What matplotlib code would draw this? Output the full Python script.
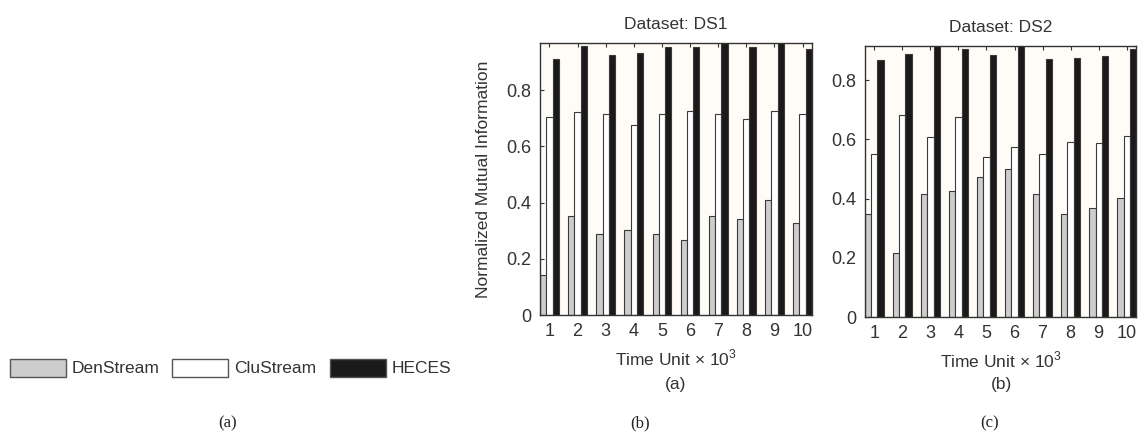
import numpy as np
import matplotlib
matplotlib.use('Agg')
from matplotlib import pyplot as plt
from matplotlib.patches import Rectangle

'''
    NMI comparison of DenStream, CluStream and HECES on two datasets
'''

plt.rcParams['font.family'] = ['Liberation Sans', 'DejaVu Sans']
plt.rcParams['mathtext.fontset'] = 'custom'
plt.rcParams['mathtext.rm'] = 'Liberation Sans'

time_units = [1, 2, 3, 4, 5, 6, 7, 8, 9, 10]
methods = ['DenStream', 'CluStream', 'HECES']

ds1_denstream = [0.142, 0.352, 0.287, 0.303, 0.288, 0.267, 0.352, 0.343, 0.408, 0.328]
ds1_clustream = [0.703, 0.721, 0.715, 0.677, 0.715, 0.727, 0.715, 0.697, 0.727, 0.715]
ds1_heces = [0.911, 0.956, 0.927, 0.933, 0.952, 0.952, 0.975, 0.952, 0.975, 0.946]

ds2_denstream = [0.349, 0.217, 0.417, 0.426, 0.473, 0.501, 0.417, 0.349, 0.370, 0.401]
ds2_clustream = [0.550, 0.682, 0.607, 0.677, 0.540, 0.574, 0.550, 0.592, 0.587, 0.611]
ds2_heces = [0.870, 0.890, 0.930, 0.905, 0.887, 0.930, 0.871, 0.877, 0.881, 0.905]

colors = ['#cdcdcd', '#ffffff', '#1a1a1a']
edge = '#3a3a3a'


def draw_panel(ax, series, title, ytop, show_ylabel):
    '''
        MATLAB style grouped bar chart
    '''
    x = np.array(time_units)
    group_w = 3 / 4.5
    bw = group_w / 3
    for i, vals in enumerate(series):
        ax.bar(x + (i - 1) * bw, vals, width=bw, color=colors[i],
               edgecolor=edge, linewidth=0.8, zorder=2)
    ax.set_xlim(1 - group_w / 2, 10 + group_w / 2)
    ax.set_ylim(0, ytop)
    ax.set_facecolor('#fffbf6')
    ax.set_xticks(time_units)
    ax.set_yticks([0, 0.2, 0.4, 0.6, 0.8])
    ax.set_yticklabels(['0', '0.2', '0.4', '0.6', '0.8'])
    ax.tick_params(direction='in', top=True, right=True, length=3,
                   labelsize=13, colors='#333333', pad=6)
    for s in ax.spines.values():
        s.set_color('#333333')
        s.set_linewidth(1.0)
    ax.set_title(title, fontsize=12.5, color='#333333', pad=10)
    ax.set_xlabel('Time Unit $\\times$ 10$^{\\mathrm{3}}$', fontsize=12.5, color='#333333')
    ax.xaxis.set_label_coords(0.5, -0.12)
    if show_ylabel:
        ax.set_ylabel('Normalized Mutual Information', fontsize=12.5, color='#333333')
        ax.yaxis.set_label_coords(-0.18, 0.5)


fig = plt.figure(figsize=(11.4, 4.36), dpi=100)

ax1 = fig.add_axes([540 / 1140, 1 - 315 / 436, 272 / 1140, 272 / 436])
draw_panel(ax1, [ds1_denstream, ds1_clustream, ds1_heces], 'Dataset: DS1', 0.968, True)

ax2 = fig.add_axes([865 / 1140, 1 - 317 / 436, 271 / 1140, 271 / 436])
draw_panel(ax2, [ds2_denstream, ds2_clustream, ds2_heces], 'Dataset: DS2', 0.916, False)

# sub captions under each chart
fig.text(676 / 1140, 1 - 384 / 436, '(a)', ha='center', va='center', fontsize=12.5, color='#333333')
fig.text(1001 / 1140, 1 - 384 / 436, '(b)', ha='center', va='center', fontsize=12.5, color='#333333')

# legend drawn as patches in the left area
lx = [10, 172, 330]
for i, name in enumerate(methods):
    fig.patches.append(Rectangle((lx[i] / 1140, 1 - 377 / 436), 56 / 1140, 18 / 436,
                                 transform=fig.transFigure, facecolor=colors[i],
                                 edgecolor='#555555', linewidth=1.0))
    fig.text((lx[i] + 62) / 1140, 1 - 368 / 436, name, ha='left', va='center',
             fontsize=12.5, color='#333333')

# figure captions
for xp, lab in [(228, '(a)'), (640, '(b)'), (990, '(c)')]:
    fig.text(xp / 1140, 1 - 423 / 436, lab, ha='center', va='center', fontsize=12,
             family=['Liberation Serif', 'DejaVu Serif'], color='#222222')

fig.savefig('out.png', dpi=100, facecolor='white')
